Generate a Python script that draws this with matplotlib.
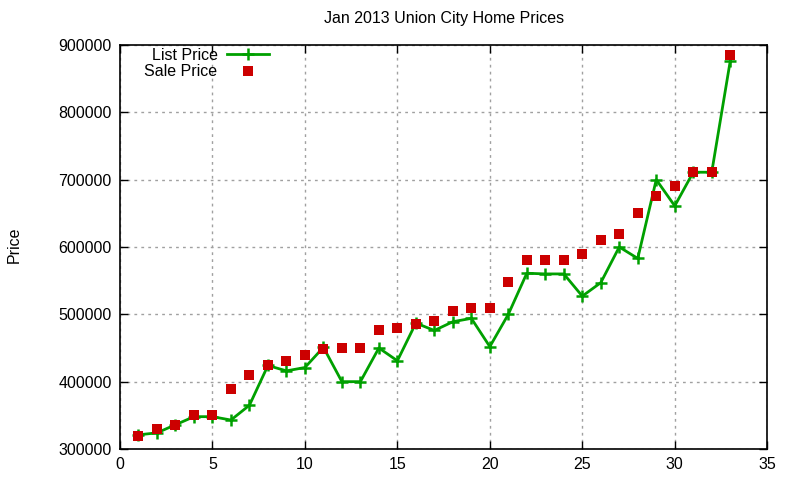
import matplotlib
matplotlib.use("Agg")
import matplotlib.pyplot as plt

# --------------------------------------------------------------------------- #
#  Data                                         #
# --------------------------------------------------------------------------- #

days = list(range(1, 34))

list_price = [
    321000, 324000, 336000, 348000, 348000, 343000, 365000, 424000, 416000, 421000,
    451000, 400000, 400000, 450000, 431000, 487000, 476000, 489000, 494000, 452000,
    500000, 561000, 560000, 560000, 527000, 547000, 600000, 583000, 700000, 661000,
    711000, 711000, 876000,
]

sale_price = [
    320000, 330000, 335000, 350000, 350000, 389000, 410000, 425000, 431000, 440000,
    449000, 450000, 450000, 476000, 480000, 486000, 490000, 505000, 510000, 510000,
    548000, 581000, 581000, 581000, 590000, 611000, 620000, 651000, 676000, 691000,
    712000, 712000, 885000,
]

# --------------------------------------------------------------------------- #
#  Figure                                                                      #
# --------------------------------------------------------------------------- #

plt.rcParams["font.family"] = ["Liberation Sans", "DejaVu Sans"]

fig = plt.figure(figsize=(8, 4.8), dpi=100)
ax = fig.add_axes([0.15, 0.0646, 0.809, 0.8417])

ax.plot(days, list_price, "-", color="#00a000", lw=2, marker="+", ms=9, mew=1.8,
        label="List Price", zorder=3)
ax.plot(days, sale_price, "s", color="#cc0000", ms=7, mew=0,
        label="Sale Price", zorder=4)

ax.set_xlim(0, 35)
ax.set_ylim(300000, 900000)
ax.set_xticks(range(0, 36, 5))
ax.set_yticks(range(300000, 900001, 100000))
ax.ticklabel_format(style="plain", axis="y")

ax.tick_params(direction="in", top=True, right=True, length=6, width=1,
               labelsize=11.5, pad=6)
ax.grid(True, color="#a0a0a0", linestyle=(0, (2, 3)), lw=1)
for sp in ax.spines.values():
    sp.set_linewidth(1.2)

ax.set_title("Jan 2013 Union City Home Prices", fontsize=11.5, pad=16)
fig.text(0.008, 0.49, "Price", rotation=90, fontsize=11.5, va="center")

ax.legend(loc="upper left", bbox_to_anchor=(0.018, 1.025), frameon=False,
          markerfirst=False, fontsize=11.5, handlelength=2.6,
          borderpad=0.3, labelspacing=0.1, handletextpad=0.6)

# right-align legend text like the reference
leg = ax.get_legend()
for t in leg.get_texts():
    t.set_ha("right")
leg._legend_box.align = "right"

fig.savefig("out.png", dpi=100)
